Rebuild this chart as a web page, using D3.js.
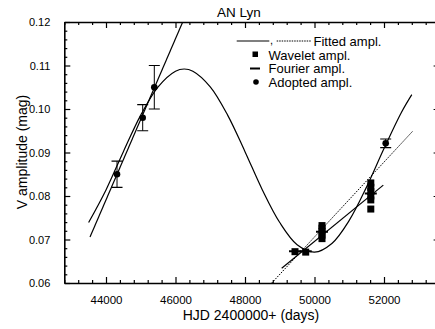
<!DOCTYPE html>
<html>
<head>
<meta charset="utf-8">
<script src="https://cdn.jsdelivr.net/npm/d3@7"></script>
<style>
  body { margin: 0; background: #fff; }
  svg { display: block; font-family: "Liberation Sans", Arial, Helvetica, sans-serif; }
  .domain { stroke: #000; stroke-width: 1.6px; }
  .tick line { stroke: #000; stroke-width: 1.2px; }
</style>
</head>
<body>
<svg id="chart" width="435" height="329"></svg>
<script>
// tick values
const xMajor = [44000, 46000, 48000, 50000, 52000];
const yMajor = [0.06, 0.07, 0.08, 0.09, 0.10, 0.11, 0.12];

// fitted sinusoid [HJD, amplitude]
const sineFit = [
  [43500, 0.0739], [44000, 0.0814], [44500, 0.0902], [45000, 0.0986],
  [45500, 0.1051], [46000, 0.1087], [46250, 0.1092], [46500, 0.1087],
  [47000, 0.1051], [47500, 0.0986], [48000, 0.0902], [48500, 0.0814],
  [49000, 0.0739], [49500, 0.0688], [50000, 0.0671], [50500, 0.0691],
  [51000, 0.0744], [51500, 0.0821], [52000, 0.0909], [52500, 0.0992],
  [52800, 0.1033]
];
// linear fits
const lineEarly = [[43540, 0.0706], [46207, 0.1200]];
const lineLate = [[49056, 0.0634], [51980, 0.0825]];
const lineDotted = [[48770, 0.0600], [52826, 0.0949]];

// wavelet amplitudes
const wavelet = [
  [49439, 0.0672], [49747, 0.0671],
  [50216, 0.0702], [50216, 0.0710], [50216, 0.0718], [50216, 0.0726], [50216, 0.0732],
  [51620, 0.0770], [51620, 0.0791], [51620, 0.0800], [51620, 0.0810], [51620, 0.0820], [51620, 0.0830]
];
// fourier amplitudes
const fourier = [[49439, 0.0673], [49747, 0.0673], [50216, 0.0718], [51620, 0.0806]];
// adopted amplitudes [HJD, amp, err]
const adopted = [[44317, 0.085, 0.003], [45056, 0.098, 0.003], [45390, 0.105, 0.005], [52049, 0.0921, 0.001]];

const svg = d3.select('#chart');
const x = d3.scaleLinear().domain([42800, 53600]).range([64.3, 439.6]);
const y = d3.scaleLinear().domain([0.06, 0.12]).range([283, 22]);

const xMinor = d3.range(42800, 53601, 400).filter(v => xMajor.indexOf(v) < 0);
const yMinor = d3.range(0, 31).map(i => 0.06 + i * 0.002).filter(v => !yMajor.some(m => Math.abs(m - v) < 1e-6));

function drawAxis(gen, tr, major, minor, labels) {
  const g = svg.append('g').attr('transform', tr);
  g.call(gen(major, 6, labels));
  const m = svg.append('g').attr('transform', tr);
  m.call(gen(minor, 3, false));
  m.select('.domain').remove();
  return g;
}

const axBottom = (vals, len, labels) => d3.axisBottom(x).tickValues(vals).tickSizeInner(-len).tickSizeOuter(0)
  .tickPadding(len + 7).tickFormat(labels ? d3.format('d') : '');
const axTop = (vals, len) => d3.axisTop(x).tickValues(vals).tickSizeInner(-len).tickSizeOuter(0).tickFormat('');
const axLeft = (vals, len, labels) => d3.axisLeft(y).tickValues(vals).tickSizeInner(-len).tickSizeOuter(0)
  .tickPadding(len + 8).tickFormat(labels ? d3.format('.2f') : '');
const axRight = (vals, len) => d3.axisRight(y).tickValues(vals).tickSizeInner(-len).tickSizeOuter(0).tickFormat('');

const gx = drawAxis(axBottom, 'translate(0,283)', xMajor, xMinor, true);
drawAxis(axTop, 'translate(0,22)', xMajor, xMinor, false);
const gy = drawAxis(axLeft, 'translate(64.3,0)', yMajor, yMinor, true);
drawAxis(axRight, 'translate(439.6,0)', yMajor, yMinor, false);

gx.selectAll('.tick text').attr('font-size', '11.5px').attr('fill', '#000').attr('font-family', 'Liberation Sans, Arial');
gy.selectAll('.tick text').attr('font-size', '11px').attr('fill', '#000').attr('font-family', 'Liberation Sans, Arial');

// titles
svg.append('text').attr('x', 239).attr('y', 12).attr('dy', '0.35em').attr('text-anchor', 'middle')
  .attr('font-size', '13.5px').text('AN Lyn');
svg.append('text').attr('x', 251).attr('y', 315).attr('dy', '0.35em').attr('text-anchor', 'middle')
  .attr('font-size', '14px').text('HJD 2400000+ (days)');
svg.append('text').attr('transform', 'translate(22,152) rotate(-90)').attr('dy', '0.35em')
  .attr('text-anchor', 'middle').attr('font-size', '14px').text('V amplitude (mag)');

// clip to frame
svg.append('clipPath').attr('id', 'clip').append('rect')
  .attr('x', 64.3).attr('y', 22).attr('width', 439.6 - 64.3).attr('height', 283 - 22);
const plot = svg.append('g').attr('clip-path', 'url(#clip)');

const line = d3.line().x(d => x(d[0])).y(d => y(d[1]));
const smooth = d3.line().x(d => x(d[0])).y(d => y(d[1])).curve(d3.curveCatmullRom);

plot.append('path').attr('d', smooth(sineFit)).attr('fill', 'none').attr('stroke', '#000').attr('stroke-width', 1.2);
plot.append('path').attr('d', line(lineEarly)).attr('fill', 'none').attr('stroke', '#000').attr('stroke-width', 1.2);
plot.append('path').attr('d', line(lineLate)).attr('fill', 'none').attr('stroke', '#000').attr('stroke-width', 1.2);
plot.append('path').attr('d', line(lineDotted)).attr('fill', 'none').attr('stroke', '#000')
  .attr('stroke-width', 1).attr('stroke-dasharray', '1.5,1.2');

// wavelet squares
plot.selectAll('.wav').data(wavelet).enter().append('rect')
  .attr('x', d => x(d[0]) - 3.5).attr('y', d => y(d[1]) - 3.5)
  .attr('width', 7).attr('height', 7).attr('fill', '#000');

// fourier dashes
plot.selectAll('.fou').data(fourier).enter().append('line')
  .attr('x1', d => x(d[0]) - 6).attr('x2', d => x(d[0]) + 6)
  .attr('y1', d => y(d[1])).attr('y2', d => y(d[1]))
  .attr('stroke', '#000').attr('stroke-width', 2);

// adopted with error bars
const ad = plot.selectAll('.ad').data(adopted).enter().append('g');
ad.append('line').attr('x1', d => x(d[0])).attr('x2', d => x(d[0]))
  .attr('y1', d => y(d[1] - d[2])).attr('y2', d => y(d[1] + d[2])).attr('stroke', '#000').attr('stroke-width', 1);
[-1, 1].forEach(s => {
  ad.append('line').attr('x1', d => x(d[0]) - 5.5).attr('x2', d => x(d[0]) + 5.5)
    .attr('y1', d => y(d[1] + s * d[2])).attr('y2', d => y(d[1] + s * d[2]))
    .attr('stroke', '#000').attr('stroke-width', 1.2);
});
ad.append('circle').attr('cx', d => x(d[0])).attr('cy', d => y(d[1])).attr('r', 3.3).attr('fill', '#000');

// legend
const lg = svg.append('g').attr('font-size', '13px');
lg.append('line').attr('x1', 236.7).attr('x2', 269.3).attr('y1', 41).attr('y2', 41).attr('stroke', '#000').attr('stroke-width', 1.2);
lg.append('text').attr('x', 270).attr('y', 44).attr('font-size', '11px').text(',');
lg.append('line').attr('x1', 276.7).attr('x2', 311.7).attr('y1', 41).attr('y2', 41).attr('stroke', '#000')
  .attr('stroke-width', 1).attr('stroke-dasharray', '1.5,1');
lg.append('text').attr('x', 313.5).attr('y', 41).attr('dy', '0.35em').text('Fitted ampl.');
lg.append('rect').attr('x', 252.5).attr('y', 51.5).attr('width', 5.5).attr('height', 5.5).attr('fill', '#000');
lg.append('text').attr('x', 268.5).attr('y', 55).attr('dy', '0.35em').text('Wavelet ampl.');
lg.append('line').attr('x1', 250).attr('x2', 260).attr('y1', 68.5).attr('y2', 68.5).attr('stroke', '#000').attr('stroke-width', 2);
lg.append('text').attr('x', 268.5).attr('y', 68.5).attr('dy', '0.35em').text('Fourier ampl.');
lg.append('circle').attr('cx', 256).attr('cy', 82).attr('r', 2.8).attr('fill', '#000');
lg.append('text').attr('x', 268.5).attr('y', 82).attr('dy', '0.35em').text('Adopted ampl.');
</script>
</body>
</html>
